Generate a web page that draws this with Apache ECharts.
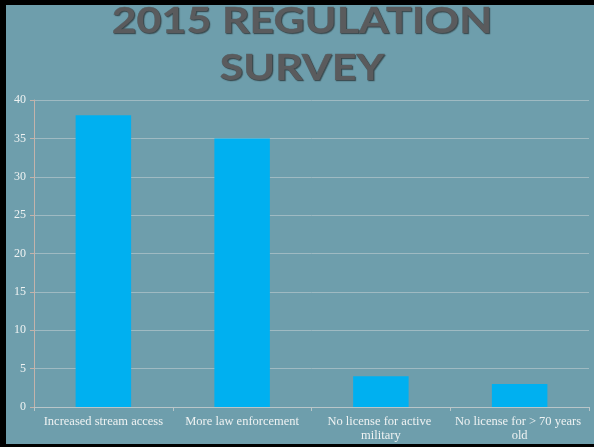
<!DOCTYPE html>
<html>
<head>
<meta charset="utf-8">
<script src="https://cdn.jsdelivr.net/npm/echarts@6/dist/echarts.min.js"></script>
<style>
html,body{margin:0;padding:0;background:#000;}
#chart{width:594px;height:447px;}
</style>
</head>
<body>
<div id="chart"></div>
<script>
const categories = ['Increased stream access', 'More law enforcement', 'No license for active military', 'No license for > 70 years old'];
const values = [38, 35, 4, 3];
const titleLines = ['2015 REGULATION', 'SURVEY'];

const chart = echarts.init(document.getElementById('chart'));
const labelFont = '"Liberation Serif", "DejaVu Serif", serif';
const titleStyle = (t) => ({
  text: t,
  x: 0, y: 0,
  align: 'center',
  verticalAlign: 'middle',
  fontFamily: 'Lato, "Open Sans", sans-serif',
  fontWeight: 'bold',
  fontSize: 43,
  fill: '#5a5b5d',
  stroke: 'rgba(60,60,60,0.5)',
  lineWidth: 0.6,
  textShadowColor: 'rgba(30,30,30,0.6)',
  textShadowBlur: 1,
  textShadowOffsetX: 1,
  textShadowOffsetY: 1.5,
  shadowColor: 'rgba(30,30,30,0.6)',
  shadowBlur: 1,
  shadowOffsetX: 1,
  shadowOffsetY: 1.5
});
chart.setOption({
  backgroundColor: '#6e9eac',
  animation: false,
  grid: { left: 34, right: 5, top: 100, bottom: 40 },
  xAxis: {
    type: 'category',
    data: categories,
    axisLine: { lineStyle: { color: '#b9c6c9', width: 1 } },
    axisTick: { show: true, alignWithLabel: false, length: 4, lineStyle: { color: '#b9c6c9' } },
    axisLabel: {
      color: '#eef2f2',
      fontFamily: labelFont,
      fontSize: 12.5,
      lineHeight: 14,
      margin: 8,
      interval: 0,
      width: 136,
      overflow: 'break'
    }
  },
  yAxis: {
    type: 'value',
    min: 0,
    max: 40,
    interval: 5,
    axisLine: { show: true, lineStyle: { color: '#c4b3ab', width: 1 } },
    axisTick: { show: true, length: 4, lineStyle: { color: '#c4b3ab' } },
    splitLine: { lineStyle: { color: '#9fbac2', width: 1 } },
    axisLabel: {
      color: '#eef2f2',
      fontFamily: labelFont,
      fontSize: 12,
      margin: 8
    }
  },
  series: [{
    type: 'bar',
    data: values,
    barWidth: '40%',
    itemStyle: { color: '#00b0f0' }
  }],
  graphic: [
    { type: 'text', x: 302, y: 21, scaleY: 0.86, style: titleStyle(titleLines[0]), z: 50 },
    { type: 'text', x: 302, y: 68, scaleY: 0.86, style: titleStyle(titleLines[1]), z: 50 },
    { type: 'rect', shape: { x: 0, y: 0, width: 594, height: 5 }, style: { fill: '#000' }, z: 100 },
    { type: 'rect', shape: { x: 0, y: 0, width: 6, height: 447 }, style: { fill: '#000' }, z: 100 },
    { type: 'rect', shape: { x: 0, y: 444, width: 594, height: 3 }, style: { fill: '#000' }, z: 100 }
  ]
});
</script>
</body>
</html>
